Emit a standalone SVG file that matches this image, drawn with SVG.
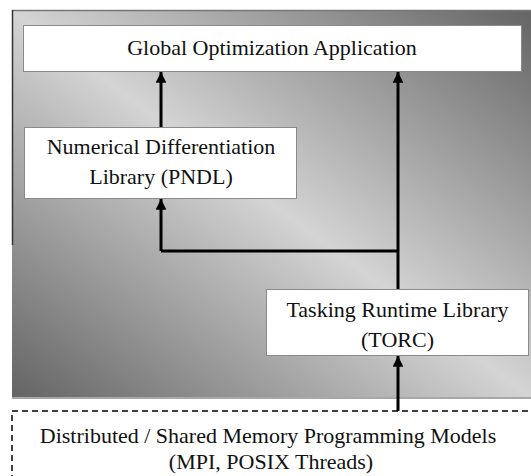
<svg xmlns="http://www.w3.org/2000/svg" width="531" height="476" viewBox="0 0 531 476">
  <style>
    .box { fill: #ffffff; stroke: #8a8a8a; stroke-width: 1; }
    .label { font-family: 'Liberation Serif', 'DejaVu Serif', serif; font-size: 22px; fill: #111; text-anchor: middle; }
    .wire { fill: none; stroke: #000; stroke-width: 3; }
  </style>
  <defs>
    <linearGradient id="panelShade" x1="0" y1="1" x2="1" y2="0">
      <stop offset="0" stop-color="#646464"/>
      <stop offset="0.5" stop-color="#d4d4d4"/>
      <stop offset="1" stop-color="#646464"/>
    </linearGradient>
    <marker id="head" viewBox="0 0 10 10" refX="10" refY="5" markerWidth="3.8" markerHeight="3.6" orient="auto" markerUnits="strokeWidth">
      <path d="M0,0 L10,5 L0,10 z" fill="#000"/>
    </marker>
  </defs>

  <!-- background panel -->
  <g id="panel">
    <rect x="12" y="10" width="519" height="387" fill="url(#panelShade)"/>
    <line x1="12" y1="10.5" x2="531" y2="10.5" stroke="#777" stroke-width="1.5"/>
    <line x1="12.5" y1="10" x2="12.5" y2="245" stroke="#333" stroke-width="1.5"/>
    <line x1="12" y1="398" x2="531" y2="398" stroke="#a8a8a8" stroke-width="2"/>
  </g>

  <!-- connectors -->
  <g id="connectors">
    <line class="wire" x1="161" y1="251" x2="161" y2="199" marker-end="url(#head)"/>
    <line class="wire" x1="161" y1="251" x2="398" y2="251"/>
    <line class="wire" x1="161" y1="127" x2="161" y2="72" marker-end="url(#head)"/>
    <line class="wire" x1="398" y1="289" x2="398" y2="72" marker-end="url(#head)"/>
    <line class="wire" x1="398" y1="411" x2="398" y2="356" marker-end="url(#head)"/>
  </g>

  <g id="app">
    <rect class="box" x="23.5" y="25.5" width="498" height="46"/>
    <text class="label" x="272" y="55">Global Optimization Application</text>
  </g>

  <g id="pndl">
    <rect class="box" x="24.5" y="127.5" width="272" height="71"/>
    <text class="label" x="161" y="154">Numerical Differentiation</text>
    <text class="label" x="161" y="184">Library (PNDL)</text>
  </g>

  <g id="torc">
    <rect class="box" x="266.5" y="289.5" width="262" height="66"/>
    <text class="label" x="397.5" y="317">Tasking Runtime Library</text>
    <text class="label" x="397.5" y="347">(TORC)</text>
  </g>

  <g id="models">
    <rect x="12" y="411" width="530" height="80" fill="none" stroke="#000" stroke-width="1.5" stroke-dasharray="6,4"/>
    <text class="label" x="268" y="443">Distributed / Shared Memory Programming Models</text>
    <text class="label" x="271" y="469">(MPI, POSIX Threads)</text>
  </g>
</svg>
